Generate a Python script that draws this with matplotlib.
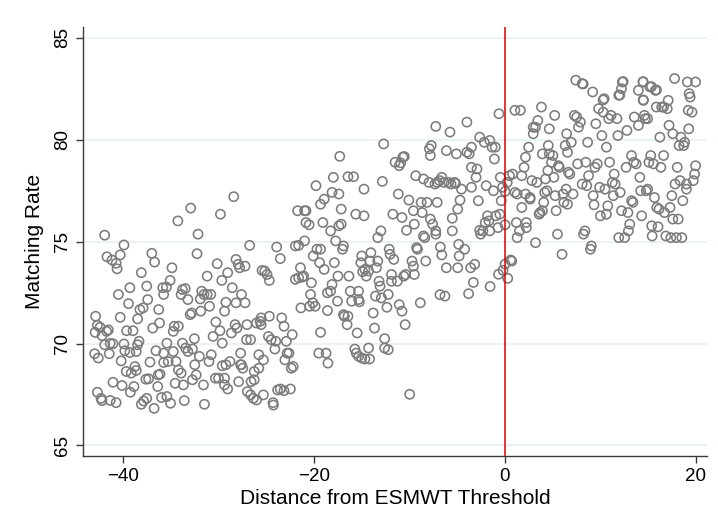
import matplotlib
matplotlib.use("Agg")
import matplotlib.pyplot as plt

plt.rcParams['font.family'] = ['Liberation Sans', 'DejaVu Sans']

# (distance, matching rate) pairs, grouped by region of the running variable
pts_far_left = [
    (-41.93,75.32),(-41.69,74.26),(-41.16,74.10),(-40.73,73.94),(-40.30,74.35),(-39.91,74.84),
    (-40.63,73.67),(-40.49,72.41),(-40.30,71.29),(-42.88,71.34),(-42.69,70.90),(-42.41,70.80),
    (-41.73,70.60),(-41.54,70.67),(-42.93,70.55),(-42.21,70.39),(-41.93,69.94),(-41.35,70.01),
    (-41.06,69.99),(-42.98,69.50),(-42.60,69.29),(-41.45,69.50),(-40.20,69.15),(-42.69,67.61),
    (-42.31,67.31),(-42.21,67.20),(-41.35,67.21),(-40.73,67.10),(-41.06,68.10),(-40.11,67.94),
    (-39.91,69.98),(-39.82,69.65),(-39.29,69.56),(-39.67,68.63),(-39.15,68.55),(-38.62,68.68),
    (-39.43,71.96),(-39.29,72.74),(-39.63,70.63),(-38.96,70.63),(-39.24,67.61),(-38.86,67.89),
    (-38.33,70.11),(-38.48,69.94),(-38.62,69.61),(-38.76,68.87),(-38.48,71.21),(-38.24,71.67),
    (-37.90,71.75),(-38.09,73.48),(-37.52,72.82),(-37.42,72.16),(-36.99,74.43),(-36.70,74.00),
    (-36.90,70.76),(-36.56,69.65),(-37.18,69.09),(-37.61,68.25),(-37.33,68.27),(-36.37,67.89),
    (-38.09,67.02),(-37.85,67.18),(-37.52,67.31),(-36.75,66.82),(-36.27,71.67),(-36.18,71.01),
    (-35.98,67.35),(-36.32,68.46),
]

pts_left = [
    (-35.84,72.74),(-35.46,72.77),(-35.75,72.41),(-35.07,73.10),(-34.88,73.72),(-34.26,76.02),
    (-34.64,70.85),(-34.21,70.85),(-34.74,70.60),(-35.41,70.02),(-35.75,69.53),(-34.74,69.61),
    (-35.75,69.07),(-35.27,69.12),(-36.13,68.50),(-34.45,69.12),(-34.21,68.71),(-33.92,68.55),
    (-34.55,68.05),(-33.68,67.97),(-35.41,67.40),(-35.03,67.07),(-33.59,67.20),(-33.92,72.41),
    (-33.78,72.65),(-33.49,72.70),(-33.21,72.16),(-32.92,76.65),(-32.97,71.42),(-32.82,71.50),
    (-33.78,70.02),(-33.45,69.78),(-33.21,69.61),(-32.53,70.24),(-32.73,69.73),(-32.73,68.22),
    (-32.25,74.41),(-32.15,75.37),(-32.01,69.37),(-32.49,68.96),(-32.34,68.46),(-31.91,72.19),
    (-31.77,72.57),(-31.19,72.41),(-31.53,72.41),(-30.81,72.41),(-31.86,71.59),(-30.95,71.83),
    (-31.19,73.31),(-31.58,67.97),(-31.48,67.02),(-31.00,69.12),(-30.76,69.45),(-30.57,70.35),
    (-30.33,68.30),(-30.00,68.30),(-29.37,68.30),(-29.80,76.35),(-30.14,73.92),(-30.28,71.06),
    (-29.85,70.63),(-29.61,70.02),(-29.66,73.10),(-29.37,71.59),(-29.23,72.03),(-29.04,73.48),
    (-29.04,67.77),(-29.37,67.97),(-29.61,68.91),(-29.23,68.96),(-28.80,69.12),(-28.41,77.21),
    (-28.56,72.74),(-28.17,72.00),(-28.08,70.76),(-28.27,70.93),(-28.65,70.52),(-28.17,74.13),
    (-27.94,73.89),(-27.89,68.13),(-27.69,68.96),(-27.79,73.72),
]

pts_mid_left = [
    (-27.60,72.41),(-27.22,72.00),(-27.22,73.80),(-27.60,68.96),(-27.46,68.79),(-27.07,70.19),
    (-27.02,70.93),(-26.74,74.82),(-27.69,69.53),(-26.64,70.19),(-26.59,68.13),(-26.26,68.22),
    (-26.98,67.64),(-26.64,67.48),(-26.35,67.31),(-26.02,67.23),(-26.02,71.01),(-25.78,69.45),
    (-25.78,68.79),(-26.26,68.63),(-25.54,71.26),(-25.64,71.09),(-25.54,70.93),(-25.30,69.20),
    (-25.30,67.48),(-25.44,73.59),(-25.16,73.56),(-24.92,73.39),(-24.68,73.10),(-24.68,71.34),
    (-24.77,70.35),(-24.48,70.19),(-24.29,67.10),(-24.25,66.98),(-24.10,69.73),(-24.01,70.11),
    (-23.91,74.74),(-23.53,74.17),(-23.81,67.72),(-23.53,67.77),(-23.14,67.69),(-23.38,71.26),
    (-23.14,70.85),(-22.90,70.11),(-22.81,69.53),(-23.05,69.20),(-22.62,69.53),(-22.47,67.77),
    (-22.28,70.44),(-22.18,68.87),(-22.38,68.79),(-21.95,74.79),(-21.61,74.82),(-21.71,76.52),
    (-20.99,76.52),(-20.84,76.52),(-21.95,73.15),(-21.61,73.23),(-21.42,73.72),(-21.23,73.26),
    (-21.08,73.31),(-21.37,71.75),(-20.99,75.04),(-20.84,75.94),(-20.51,75.83),(-20.27,72.98),
    (-20.36,72.41),(-20.12,72.00),(-20.46,71.83),(-19.88,71.83),(-20.08,74.30),(-19.79,77.75),
]

pts_mid = [
    (-19.69,74.63),(-19.31,74.63),(-19.41,73.97),(-19.50,69.53),(-19.31,70.55),(-19.31,76.84),
    (-18.93,77.09),(-19.07,75.94),(-18.93,73.64),(-18.73,69.53),(-18.59,71.62),(-18.54,69.04),
    (-18.59,72.49),(-18.26,72.57),(-18.11,72.90),(-18.26,75.53),(-18.11,77.42),(-17.97,78.16),
    (-17.87,73.97),(-17.73,75.04),(-17.54,72.08),(-17.49,73.31),(-17.39,77.34),(-17.30,79.19),
    (-17.15,76.60),(-17.15,75.86),(-17.39,75.78),(-17.01,74.63),(-16.91,74.79),(-16.91,71.42),
    (-16.82,71.34),(-16.44,71.34),(-16.53,70.93),(-16.34,73.31),(-16.44,78.19),(-15.86,78.19),
    (-16.20,72.57),(-16.05,72.08),(-15.48,70.52),(-15.62,76.35),(-15.33,72.57),(-15.33,72.16),
    (-15.24,72.05),(-15.72,69.73),(-15.57,69.53),(-15.33,69.37),(-15.00,69.29),(-14.66,69.24),
    (-14.18,69.24),(-14.28,69.78),(-14.76,77.58),(-14.76,76.27),(-15.00,74.30),(-15.09,73.97),
    (-14.90,73.53),(-14.52,73.31),(-14.66,73.64),(-14.14,74.05),(-14.28,73.56),(-14.04,74.46),
    (-13.80,71.50),(-13.66,70.76),(-13.56,72.33),(-13.32,74.05),(-13.46,73.72),(-13.18,73.06),
    (-13.32,75.20),(-12.99,75.53),(-13.08,72.82),(-12.94,72.24),(-12.70,79.80),(-12.84,77.96),
    (-12.60,70.24),(-12.60,69.78),(-12.22,69.70),(-12.36,71.78),(-12.22,72.41),(-12.12,74.63),
    (-12.03,74.38),(-11.88,73.39),(-11.88,73.06),(-11.74,76.35),(-11.64,74.13),(-11.50,78.90),
    (-11.26,73.06),
]

pts_near_left = [
    (-11.16,77.34),(-11.07,78.73),(-10.92,78.87),(-10.69,79.15),(-10.54,79.18),(-10.78,76.19),
    (-10.78,71.59),(-11.07,71.91),(-10.59,73.31),(-10.40,73.39),(-10.30,75.56),(-10.45,70.93),
    (-9.97,67.51),(-10.06,77.04),(-9.73,74.05),(-9.58,73.80),(-9.49,73.39),(-9.58,76.52),
    (-9.49,75.86),(-9.34,78.24),(-9.15,74.63),(-9.25,74.71),(-8.86,72.00),(-8.77,76.93),
    (-8.67,76.43),(-8.53,78.08),(-8.53,75.28),(-8.39,75.20),(-8.29,74.05),(-8.15,76.93),
    (-7.95,77.91),(-7.91,79.56),(-7.71,79.72),(-7.81,79.23),(-7.81,76.11),(-7.57,75.86),
    (-7.24,75.53),(-7.09,76.93),(-7.24,75.37),(-7.33,77.83),(-7.24,80.66),(-7.09,77.91),
    (-6.85,78.00),(-6.76,74.74),(-6.61,74.35),(-6.61,78.16),(-6.37,77.91),(-6.28,72.33),
    (-6.13,73.72),(-6.13,79.47),(-5.89,77.91),(-5.75,80.38),(-5.65,77.83),(-5.51,75.53),
    (-5.51,76.15),(-5.27,77.91),(-5.17,77.86),(-5.08,79.31),(-4.94,73.72),(-4.79,74.30),
    (-4.84,74.87),(-4.94,76.60),(-4.70,77.04),(-4.55,77.58),(-4.22,74.63),(-3.98,80.87),
    (-3.98,79.39),(-3.74,79.31),(-3.50,78.65),(-3.50,77.67),(-3.59,73.72),(-3.50,79.64),
    (-3.16,73.89),(-3.02,78.16),(-2.92,78.57),(-2.78,77.01),(-2.64,75.56),(-2.54,75.37),
    (-2.64,80.13),(-2.16,79.88),(-2.30,75.53),(-2.06,75.94),(-1.96,77.75),(-1.58,79.97),
    (-1.34,79.64),(-1.82,76.27),(-1.68,76.02),(-1.58,75.53),(-1.20,77.50),(-1.10,79.06),
    (-1.01,79.64),(-0.96,76.27),(-0.72,75.69),(-0.62,81.28),(-0.53,76.35),(-0.38,77.01),
    (-0.48,78.16),(-0.24,77.67),(-0.20,73.60),(-0.67,73.40),(-1.55,72.80),(-3.30,73.00),
    (-3.80,72.45),(-6.80,72.40),
]

pts_right_near = [
    (0.30,73.20),(0.02,73.90),(0.60,74.10),(0.02,77.47),(0.24,77.91),(0.48,78.24),(0.02,75.83),
    (0.72,74.05),(1.05,81.45),(1.63,81.45),(0.81,78.32),(1.05,77.42),(1.29,77.34),(1.20,75.94),
    (1.29,75.20),(1.53,75.53),(1.77,78.24),(1.77,76.68),(2.01,78.65),(2.16,79.15),(2.16,77.34),
    (2.25,75.94),(2.25,75.69),(2.49,79.64),(2.64,77.17),(2.64,77.09),(2.83,78.00),(2.97,80.30),
    (2.97,80.62),(3.21,80.62),(3.21,74.95),(3.35,77.91),(3.45,80.95),(3.59,76.35),(3.69,76.43),
    (3.83,81.61),(3.93,79.31),(3.93,76.52),(4.17,77.42),(4.07,76.93),(4.26,78.08),(4.41,77.50),
    (4.50,78.49),(4.55,79.72),(4.65,80.54),(4.65,79.31),(4.89,78.90),(5.03,79.23),(5.13,78.16),
    (5.22,81.20),(5.27,77.26),(5.37,76.52),(5.51,75.37),(5.61,78.73),(5.70,78.65),(5.99,74.38),
    (6.09,77.34),(6.18,76.93),(6.32,79.72),(6.42,77.58),(6.47,80.30),(6.56,79.39),(6.56,76.84),
    (6.66,78.41),(6.80,78.32),(6.95,79.88),(7.14,77.34),(7.28,81.20),(7.43,82.93),(7.52,81.12),
    (7.62,78.82),(7.71,80.62),(7.91,80.87),(8.10,82.76),(8.10,77.83),(8.24,75.37),(8.39,75.53),
    (8.48,78.90),(8.58,77.75),(8.67,79.88),(8.77,78.24),(8.96,74.63),(9.06,74.79),(9.20,82.35),
    (9.25,77.26),(9.34,76.81),(9.44,78.65),(9.53,80.79),(9.68,78.82),(9.82,81.53),(9.92,77.67),
]

pts_right_far = [
    (10.01,76.27),(10.16,80.21),(10.30,81.36),(10.40,82.02),(10.49,77.58),(10.64,79.64),
    (10.64,76.35),(10.78,76.76),(10.88,81.04),(10.97,78.90),(11.12,81.20),(11.26,77.91),
    (11.36,77.26),(11.45,78.32),(11.55,77.83),(11.74,81.04),(11.84,80.21),(11.93,82.19),
    (11.93,75.20),(12.08,77.42),(12.22,82.51),(12.31,82.84),(12.22,76.52),(12.55,75.20),
    (12.70,78.65),(12.79,80.46),(12.89,76.43),(12.94,75.53),(13.08,75.86),(13.27,77.01),
    (13.27,79.23),(13.42,76.93),(13.51,78.90),(13.56,81.12),(13.75,78.82),(13.99,82.43),
    (13.99,80.71),(14.14,78.16),(14.23,77.50),(14.33,76.27),(14.47,82.84),(14.52,81.94),
    (14.62,81.20),(14.71,81.04),(14.81,77.50),(14.95,81.04),(14.95,77.58),(15.09,78.90),
    (15.19,82.60),(15.28,79.23),(15.38,75.78),(15.43,75.28),(15.57,78.82),(15.67,77.17),
    (15.76,82.43),(15.86,81.61),(15.91,76.68),(16.05,75.73),(16.15,76.60),(16.24,80.13),
    (16.34,78.65),(16.43,81.61),(16.63,79.23),(16.63,81.61),(16.72,76.43),(16.86,75.28),
    (17.01,81.53),(17.11,81.94),(17.20,80.71),(17.30,76.68),(17.39,75.20),(17.49,77.26),
    (17.59,80.30),(17.59,76.11),(17.78,83.01),(17.83,77.83),(17.97,75.20),(18.06,78.65),
    (18.16,76.11),(18.25,79.72),(18.35,78.00),(18.45,80.13),(18.54,75.20),(18.64,77.01),
    (18.73,79.72),(18.83,79.88),(19.02,77.83),(19.02,77.58),(19.12,82.84),(19.21,81.45),
    (19.26,80.54),(19.31,82.27),(19.41,82.10),(19.60,81.36),(19.74,78.00),(19.88,78.32),
    (19.98,82.84),(19.98,78.73),(8.20,82.74),(12.39,82.86),(14.48,82.86),(15.36,82.61),
    (15.88,82.45),(14.48,81.96),(10.29,81.96),(12.04,82.20),
]

y_ticks = [65, 70, 75, 80, 85]
x_ticks = [-40, -20, 0, 20]
threshold = 0

all_pts = (pts_far_left + pts_left + pts_mid_left + pts_mid +
           pts_near_left + pts_right_near + pts_right_far)
xs = [p[0] for p in all_pts]
ys = [p[1] for p in all_pts]

fig = plt.figure(figsize=(7.18, 5.25), dpi=100)
ax = fig.add_axes([0.1156, 0.1314, 0.985 - 0.1156, 0.949 - 0.1314])

ax.set_xlim(-44.2, 21.2)
ax.set_ylim(64.48, 85.55)
ax.set_yticks(y_ticks)
ax.set_xticks(x_ticks)
ax.yaxis.grid(True, color='#e8f0f2', linewidth=1.2)
ax.set_axisbelow(True)

ax.scatter(xs, ys, s=44, facecolors='none', edgecolors='#7c7c7c', linewidths=1.15, zorder=2)
ax.axvline(threshold, color='#e00000', linewidth=1.1, zorder=3)

for s in ['top', 'right']:
    ax.spines[s].set_visible(False)
for s in ['left', 'bottom']:
    ax.spines[s].set_color('#3a3a3a')
    ax.spines[s].set_linewidth(1.0)

ax.tick_params(axis='both', colors='#3a3a3a', labelcolor='black', labelsize=13.5, length=5, width=1.0)
ax.tick_params(axis='y', labelrotation=90)
for lab in ax.get_yticklabels():
    lab.set_va('center')

ax.set_xlabel('Distance from ESMWT Threshold', fontsize=15, labelpad=3)
ax.set_ylabel('Matching Rate', fontsize=15, labelpad=7)

fig.savefig('out.png', dpi=100)
